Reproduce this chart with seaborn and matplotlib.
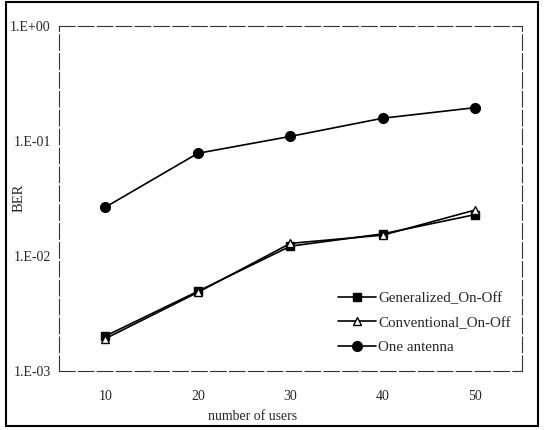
import matplotlib
matplotlib.use("Agg")
import matplotlib.pyplot as plt
import seaborn as sns
import pandas as pd
from matplotlib.patches import Rectangle
from matplotlib.lines import Line2D

# Number of active users
users = [10, 20, 30, 40, 50]

# Bit error rate for each scheme
ber_generalized = [0.0020, 0.0049, 0.0121, 0.0155, 0.0228]
ber_conventional = [0.0019, 0.0048, 0.0128, 0.0151, 0.0250]
ber_one_antenna = [0.0264, 0.0777, 0.109, 0.157, 0.194]

series_names = ["Generalized_On-Off", "Conventional_On-Off", "One antenna"]
y_ticks = [1e-3, 1e-2, 1e-1, 1e0]
y_tick_labels = ["1.E-03", "1.E-02", "1.E-01", "1.E+00"]

df = pd.DataFrame({
    "users": users * 3,
    "BER": ber_generalized + ber_conventional + ber_one_antenna,
    "scheme": [series_names[0]] * 5 + [series_names[1]] * 5 + [series_names[2]] * 5,
})

sns.set_style("white")
plt.rcParams["font.family"] = ["Liberation Serif", "DejaVu Serif"]
plt.rcParams["font.size"] = 10

fig = plt.figure(figsize=(5.44, 4.30), dpi=100)
ax = fig.add_axes([0.1085, 0.1379, 0.8505, 0.8023])

styles = {
    series_names[0]: dict(marker="s", ms=6.0, mfc="black", mec="black"),
    series_names[1]: dict(marker="^", ms=5.5, mfc="white", mec="black"),
    series_names[2]: dict(marker="o", ms=7.0, mfc="black", mec="black"),
}

for name in series_names:
    sub = df[df["scheme"] == name]
    st = styles[name]
    sns.lineplot(data=sub, x="users", y="BER", ax=ax, color="black", lw=1.2,
                 marker=st["marker"], markersize=st["ms"],
                 markerfacecolor=st["mfc"], markeredgecolor=st["mec"],
                 markeredgewidth=1.0, legend=False)

ax.set_yscale("log")
ax.set_ylim(1e-3, 1e0)
ax.set_xlim(5, 55)
ax.set_yticks(y_ticks)
ax.set_yticklabels(y_tick_labels)
ax.yaxis.set_minor_locator(matplotlib.ticker.NullLocator())
ax.set_xticks(users)
ax.set_xticklabels([str(u) for u in users])
ax.tick_params(axis="x", length=0, pad=14, labelsize=10)
ax.tick_params(axis="y", length=0, pad=6, labelsize=10)

ax.set_xlabel("number of users", fontsize=10)
ax.set_ylabel("BER", fontsize=10.5)
ax.xaxis.set_label_coords(0.418, -0.115)
ax.yaxis.set_label_coords(-0.072, 0.5)

for side in ["top", "right", "bottom", "left"]:
    ax.spines[side].set_visible(True)
    ax.spines[side].set_color("#333333")
    ax.spines[side].set_linewidth(0.8)
    ax.spines[side].set_linestyle((0, (14, 3)))

handles = [
    Line2D([], [], color="black", lw=1.2, marker=styles[n]["marker"],
           markersize=styles[n]["ms"], markerfacecolor=styles[n]["mfc"],
           markeredgecolor=styles[n]["mec"])
    for n in series_names
]
fig.legend(handles, series_names, loc="center left",
           bbox_to_anchor=(0.622, 0.249), frameon=False, fontsize=10.8,
           handlelength=2.5, handletextpad=0.15, labelspacing=0.75,
           borderpad=0, borderaxespad=0)

fig.patches.append(Rectangle((0.011, 0.0093), 0.978, 0.986,
                             transform=fig.transFigure, fill=False,
                             edgecolor="black", lw=1.5))

fig.savefig("out.png", dpi=100)
